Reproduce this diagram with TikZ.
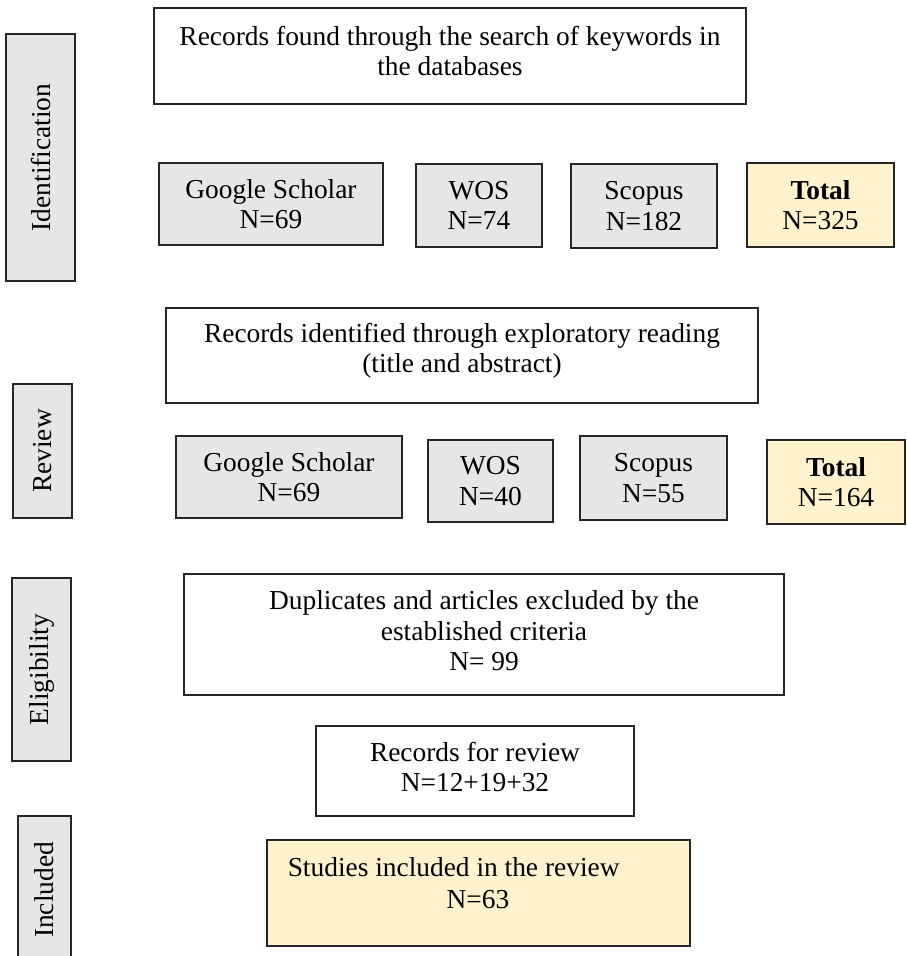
\documentclass[tikz,border=0pt]{standalone}
\usepackage{fontspec}
\setmainfont{Liberation Serif}
\definecolor{boxgray}{HTML}{E6E6E6}
\definecolor{boxgold}{HTML}{FFF2CC}
\begin{document}
\begin{tikzpicture}[x=1pt,y=-1pt,
  base/.style={draw=black!85,line width=1.5pt,inner sep=0pt,align=center,
    font=\fontsize{27.4}{30.5}\selectfont},
  whitebox/.style={base,fill=white},
  graybox/.style={base,fill=boxgray},
  goldbox/.style={base,fill=boxgold},
  stagebox/.style={base,fill=boxgray,rotate=90}]
\clip (0,0) rectangle (907,956);
\fill[white] (0,0) rectangle (907,956);
% stage labels (rotated: width = vertical extent)
\node[stagebox,minimum width=247,minimum height=69] (idl) at (40.5,157.5) {Identification};
\node[stagebox,minimum width=134,minimum height=59] (revl) at (42.5,451) {Review};
\node[stagebox,minimum width=183,minimum height=59] (eligl) at (41.5,669.5) {Eligibility};
\node[stagebox,minimum width=148,minimum height=53] (incl) at (44.5,890) {Included};
% identification
\node[whitebox,minimum width=592,minimum height=96] (top) at (450,56) {};
\node[base,draw=none] (toptext) at (450,51)
  {Records found through the search of keywords in\\the databases};
\node[graybox,minimum width=224,minimum height=82] (gsa) at (271,204) {Google Scholar\\N=69};
\node[graybox,minimum width=126,minimum height=83] (wosa) at (479,205.5) {WOS\\N=74};
\node[graybox,minimum width=146,minimum height=84] (sca) at (644,206) {Scopus\\N=182};
\node[goldbox,minimum width=147,minimum height=84] (tota) at (820.5,205) {\textbf{Total}\\N=325};
% review
\node[whitebox,minimum width=592,minimum height=95] (rtop) at (462,355.5) {};
\node[base,draw=none] (rtoptext) at (462,351)
  {Records identified through exploratory reading\\(title and abstract)};
\node[graybox,minimum width=226,minimum height=82] (gsb) at (289,477) {Google Scholar\\N=69};
\node[graybox,minimum width=125,minimum height=82] (wosb) at (490.5,481) {WOS\\N=40};
\node[graybox,minimum width=147,minimum height=84] (scb) at (653.5,478) {Scopus\\N=55};
\node[goldbox,minimum width=138,minimum height=84] (totb) at (836,482) {\textbf{Total}\\N=164};
% eligibility
\node[whitebox,minimum width=600,minimum height=121] (dup) at (484,634.5) {};
\node[base,draw=none] (duptext) at (484,631)
  {Duplicates and articles excluded by the\\established criteria\\N= 99};
\node[whitebox,minimum width=318,minimum height=90] (rec) at (475,771) {};
\node[base,draw=none] (rectext) at (475,767) {Records for review\\N=12+19+32};
% included
\node[goldbox,minimum width=423,minimum height=106] (stud) at (478.5,893) {};
\node[base,draw=none,anchor=west] (studa) at (287,867) {Studies included in the review};
\node[base,draw=none] (studb) at (478,900) {N=63};
\end{tikzpicture}
\end{document}
